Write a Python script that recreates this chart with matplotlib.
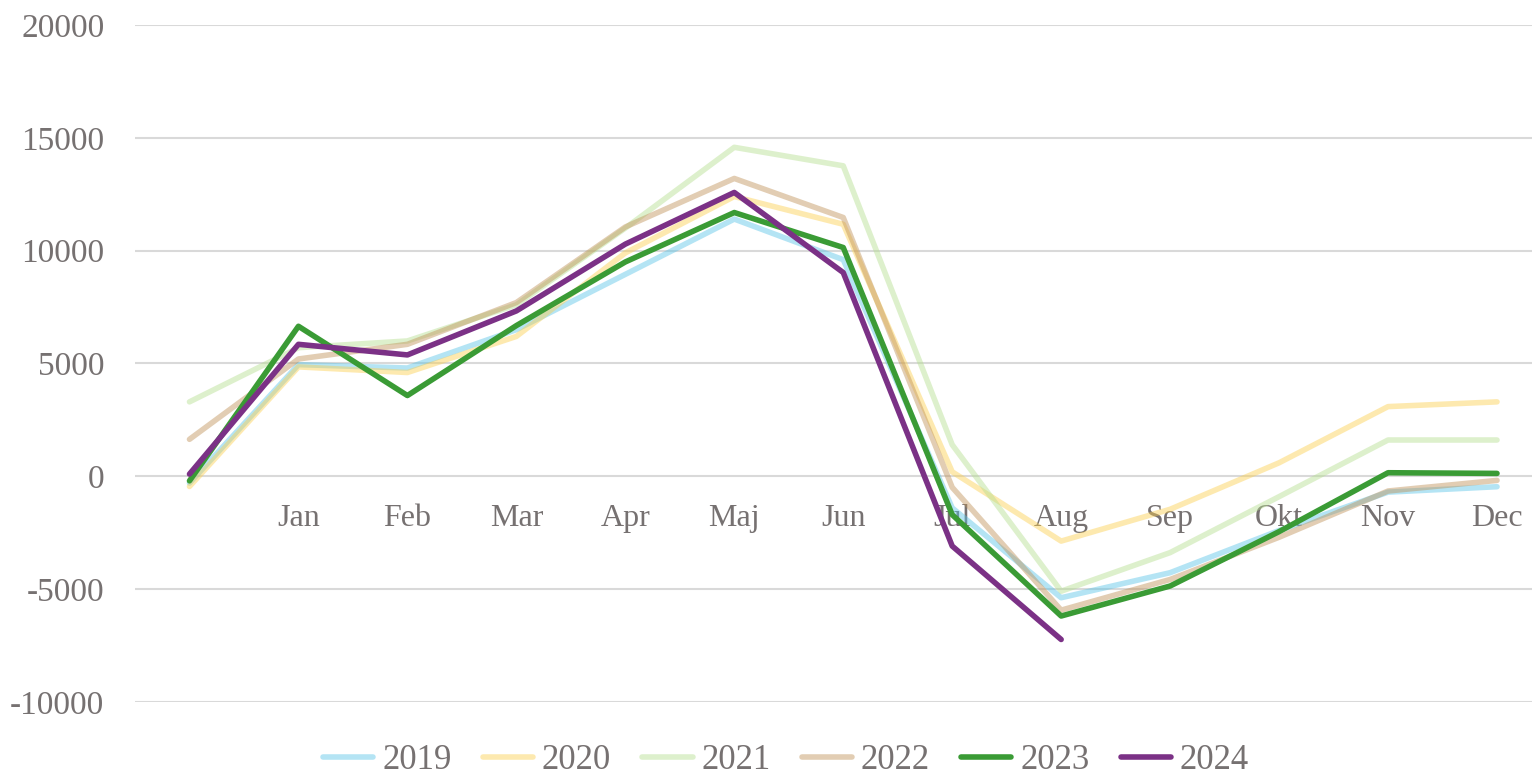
import matplotlib.pyplot as plt

months = ["", "Jan", "Feb", "Mar", "Apr", "Maj", "Jun", "Jul", "Aug", "Sep", "Okt", "Nov", "Dec"]

y2019 = [-300, 4950, 4800, 6500, 8950, 11400, 9600, -1400, -5380, -4270, -2400, -700, -460]
y2020 = [-450, 4850, 4600, 6200, 9900, 12400, 11170, 200, -2870, -1460, 600, 3090, 3300]
y2021 = [3300, 5700, 6000, 7600, 11000, 14580, 13760, 1400, -5090, -3380, -900, 1610, 1610]
y2022 = [1640, 5200, 5850, 7700, 11050, 13200, 11470, -490, -5930, -4570, -2700, -650, -180]
y2023 = [-200, 6650, 3580, 6680, 9500, 11690, 10140, -1700, -6190, -4860, -2450, 160, 130]
y2024 = [100, 5850, 5380, 7330, 10290, 12580, 9030, -3090, -7230]

years = ["2019", "2020", "2021", "2022", "2023", "2024"]
series = [y2019, y2020, y2021, y2022, y2023, y2024]
colors = [(0.35, 0.77, 0.91, 0.45), (0.99, 0.81, 0.31, 0.45), (0.71, 0.87, 0.56, 0.45),
          (0.75, 0.57, 0.34, 0.45), "#3a9b35", "#7b3186"]

plt.rcParams["font.family"] = "Liberation Serif"
plt.rcParams["axes.unicode_minus"] = False
text_color = "#767171"

fig = plt.figure(figsize=(15.32, 7.75), dpi=100)
ax = fig.add_axes([135 / 1532, 1 - 702 / 775, 1 - 135 / 1532, 677 / 775])

for name, vals, col in zip(years, series, colors):
    ax.plot(range(len(vals)), vals, color=col, lw=4.0, label=name,
            solid_capstyle="round")

ax.set_ylim(-10000, 20000)
ax.set_xlim(-0.5, (1532 - 189) / 109)
ax.set_yticks(range(-10000, 20001, 5000))
ax.set_xticks(range(len(months)))
ax.set_xticklabels(months)
ax.yaxis.grid(True, color="#d9d9d9", lw=1.5)
ax.set_axisbelow(True)
for s in ax.spines.values():
    s.set_visible(False)
ax.spines["bottom"].set_position(("data", 0))
ax.tick_params(axis="both", length=0, labelsize=23, labelcolor=text_color)
ax.tick_params(axis="x", pad=20)
ax.tick_params(axis="y", labelsize=24, pad=22)

leg = fig.legend(loc="lower center", ncol=6, frameon=False, fontsize=25,
                 bbox_to_anchor=(0.513, -0.038), handlelength=1.45,
                 handletextpad=0.25, columnspacing=0.9, borderpad=0.3)
for t in leg.get_texts():
    t.set_color(text_color)

fig.savefig("out.png", dpi=100)
